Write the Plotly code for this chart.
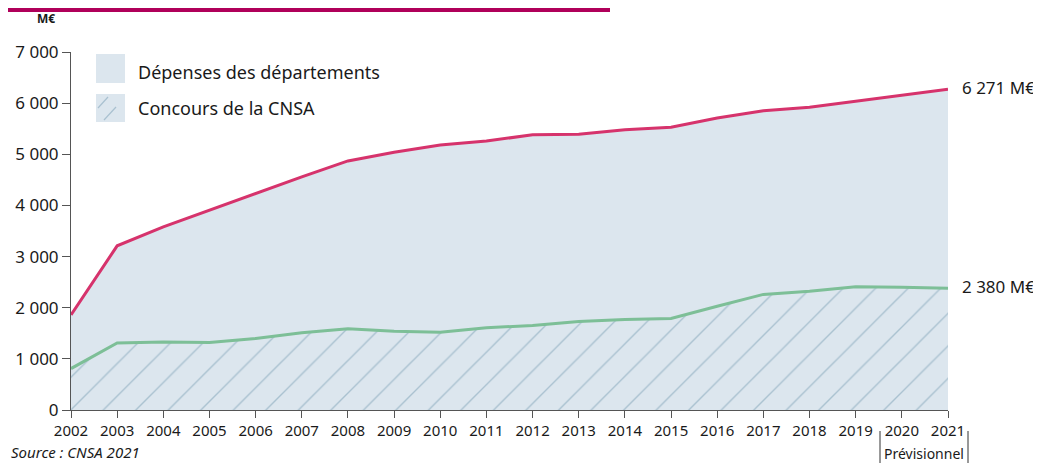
import plotly.graph_objects as go

years = list(range(2002, 2022))
depenses = [1860, 3210, 3580, 3910, 4240, 4560, 4870, 5040, 5180, 5260,
            5380, 5390, 5480, 5530, 5710, 5850, 5920, 6040, 6150, 6271]
cnsa = [810, 1310, 1330, 1320, 1400, 1510, 1590, 1540, 1520, 1610,
        1650, 1730, 1770, 1790, 2030, 2260, 2320, 2410, 2400, 2380]
y_ticks = [0, 1000, 2000, 3000, 4000, 5000, 6000, 7000]
legend_labels = ["Dépenses des départements", "Concours de la CNSA"]
end_labels = ["6 271 M€", "2 380 M€"]

FONT = "Noto Sans"
FILL = "#dce6ee"
RED = "#d6336c"
GREEN = "#7dbf97"
HATCH = "#a9c1d0"
TXT = "#1a1a1a"

fig = go.Figure()
fig.add_trace(go.Scatter(x=years, y=depenses, mode="lines", fill="tozeroy",
                         fillcolor=FILL, line=dict(color=RED, width=3),
                         showlegend=False, hoverinfo="skip"))
fig.add_trace(go.Scatter(x=years, y=cnsa, mode="lines", fill="tozeroy",
                         fillcolor=FILL,
                         fillpattern=dict(shape="/", size=23, solidity=0.06,
                                          fgcolor=HATCH, bgcolor=FILL,
                                          fillmode="replace"),
                         line=dict(color=GREEN, width=3),
                         showlegend=False, hoverinfo="skip"))

# page body has an 8px margin: figure origin sits at (8, 8) of the window
OFF = 8
W, H = 1041 - OFF, 464 - OFF
L, T = 71 - OFF, 52 - OFF
R = W - (948 - OFF)
B = H - (410 - OFF)
pw, ph = W - L - R, H - T - B


def px(x):  # reference window pixel -> paper x
    return (x - OFF - L) / pw


def py(y):  # reference window pixel -> paper y
    return 1 - (y - OFF - T) / ph


shapes = []
annotations = []


def label(text, x, y, size, xanchor="left", xref="paper", yref="paper"):
    annotations.append(dict(xref=xref, yref=yref, x=x, y=y, text=text,
                            showarrow=False, xanchor=xanchor, yanchor="middle",
                            font=dict(family=FONT, size=size, color=TXT)))


# top banner
shapes.append(dict(type="rect", xref="paper", yref="paper",
                   x0=px(0), x1=px(610), y0=py(12), y1=py(-5),
                   fillcolor="#b0005a", line=dict(width=0), layer="above"))

# legend boxes
shapes.append(dict(type="rect", xref="paper", yref="paper",
                   x0=px(96), x1=px(125), y0=py(83), y1=py(54),
                   fillcolor=FILL, line=dict(width=0)))
shapes.append(dict(type="rect", xref="paper", yref="paper",
                   x0=px(96), x1=px(125), y0=py(122), y1=py(94),
                   fillcolor=FILL, line=dict(width=0)))
for (x0, y0, x1, y1) in [(98, 108, 108, 97), (104, 120, 116, 107)]:
    shapes.append(dict(type="line", xref="paper", yref="paper",
                       x0=px(x0), y0=py(y0), x1=px(x1), y1=py(y1),
                       line=dict(color=HATCH, width=1.2)))
label(legend_labels[0], px(136), py(72), 18)
label(legend_labels[1], px(136), py(108), 18)

# end labels
label(end_labels[0], px(960), depenses[-1] + 30, 17, yref="y")
label(end_labels[1], px(960), cnsa[-1] + 30, 17, yref="y")

# unit label
label("<b>M€</b>", px(46), py(18), 12, xanchor="center")

# source
label("<i>Source : CNSA 2021</i>", px(9), py(452), 15, xanchor="left")

# Prévisionnel bracket
for xv in (880, 968):
    shapes.append(dict(type="line", xref="paper", yref="paper",
                       x0=px(xv), x1=px(xv), y0=py(431), y1=py(463),
                       line=dict(color="#333", width=1)))
label("Prévisionnel", px(924), py(453), 14, xanchor="center")

fig.update_layout(
    width=W, height=H,
    margin=dict(l=L, r=R, t=T, b=B, pad=0),
    paper_bgcolor="white", plot_bgcolor="white",
    separators=", ",
    showlegend=False,
    shapes=shapes, annotations=annotations,
    xaxis=dict(range=[2002, 2021], tickvals=years, ticktext=[str(y) for y in years],
               automargin=False,
               showgrid=False, zeroline=False, showline=True,
               linecolor="#555", linewidth=1, ticks="outside", ticklen=7,
               tickcolor="#555",
               tickfont=dict(family=FONT, size=15, color=TXT)),
    yaxis=dict(range=[0, 7000], tickvals=y_ticks, tickformat=",d",
               automargin=False,
               showgrid=False, zeroline=False, showline=True,
               linecolor="#555", linewidth=1, ticks="outside", ticklen=8,
               tickcolor="#555",
               tickfont=dict(family=FONT, size=17, color=TXT)),
)

fig.write_html("out.html")
